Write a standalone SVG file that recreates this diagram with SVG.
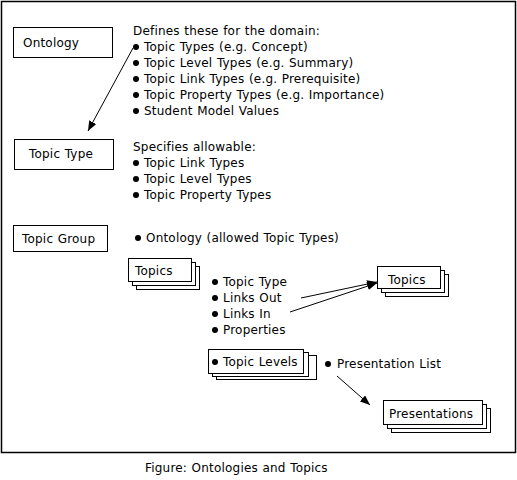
<svg xmlns="http://www.w3.org/2000/svg" width="517" height="480" viewBox="0 0 517 480">
<style>
text{font-family:"DejaVu Sans","Liberation Sans",sans-serif;font-size:12px;fill:#000;letter-spacing:0.2px;word-spacing:0.5px}
.box{fill:#fff;stroke:#000;stroke-width:1}
.frame{fill:none;stroke:#000;stroke-width:1.5}
.bul{fill:#000}
.conn{stroke:#000;stroke-width:1;fill:none;marker-end:url(#ah)}
</style>
<defs>
<marker id="ah" viewBox="0 0 10 8" refX="10" refY="4" markerWidth="10" markerHeight="8" markerUnits="userSpaceOnUse" orient="auto">
<path d="M0,0 L10,4 L0,8 Z" fill="#000"/>
</marker>
</defs>
<rect width="517" height="480" fill="#fff"/>
<rect class="frame" x="1.5" y="1.5" width="514" height="451"/>

<g id="ontology">
<rect class="box" x="13.5" y="27.5" width="99" height="30"/>
<text x="23" y="47">Ontology</text>
</g>
<g id="ontology-notes">
<text x="133" y="35">Defines these for the domain:</text>
<circle class="bul" cx="136" cy="47" r="3"/><text x="144" y="51">Topic Types (e.g. Concept)</text>
<circle class="bul" cx="136" cy="63" r="3"/><text x="144" y="67">Topic Level Types (e.g. Summary)</text>
<circle class="bul" cx="136" cy="79" r="3"/><text x="144" y="83">Topic Link Types (e.g. Prerequisite)</text>
<circle class="bul" cx="136" cy="95" r="3"/><text x="144" y="99">Topic Property Types (e.g. Importance)</text>
<circle class="bul" cx="136" cy="111" r="3"/><text x="144" y="115">Student Model Values</text>
</g>

<g id="topic-type">
<rect class="box" x="14.5" y="139.5" width="99" height="30"/>
<text x="29" y="158">Topic Type</text>
</g>
<g id="topic-type-notes">
<text x="133" y="151">Specifies allowable:</text>
<circle class="bul" cx="136" cy="163" r="3"/><text x="144" y="167">Topic Link Types</text>
<circle class="bul" cx="136" cy="179" r="3"/><text x="144" y="183">Topic Level Types</text>
<circle class="bul" cx="136" cy="195" r="3"/><text x="144" y="199">Topic Property Types</text>
</g>

<g id="topic-group">
<rect class="box" x="13.5" y="225.5" width="94" height="26"/>
<text x="22" y="243">Topic Group</text>
</g>
<g id="topic-group-notes">
<circle class="bul" cx="138" cy="238" r="3"/><text x="146" y="242">Ontology (allowed Topic Types)</text>
</g>

<g id="topics-left">
<rect class="box" x="136.5" y="266.5" width="63" height="23"/>
<rect class="box" x="132.5" y="262.5" width="63" height="23"/>
<rect class="box" x="128.5" y="258.5" width="63" height="23"/>
<text x="135" y="275">Topics</text>
</g>
<g id="topic-notes">
<circle class="bul" cx="215" cy="282" r="3"/><text x="223" y="286">Topic Type</text>
<circle class="bul" cx="215" cy="298" r="3"/><text x="223" y="302">Links Out</text>
<circle class="bul" cx="215" cy="314" r="3"/><text x="223" y="318">Links In</text>
<circle class="bul" cx="215" cy="330" r="3"/><text x="223" y="334">Properties</text>
</g>

<g id="topics-right">
<rect class="box" x="385.5" y="274.5" width="63" height="22"/>
<rect class="box" x="381.5" y="270.5" width="63" height="22"/>
<rect class="box" x="377.5" y="266.5" width="63" height="22"/>
<text x="388" y="284">Topics</text>
</g>

<g id="topic-levels">
<rect class="box" x="216.5" y="355.5" width="100" height="24"/>
<rect class="box" x="212.5" y="352.5" width="96" height="24"/>
<rect class="box" x="208.5" y="349.5" width="95" height="24"/>
<circle class="bul" cx="215" cy="362" r="3"/><text x="223" y="366">Topic Levels</text>
</g>
<g id="presentation-list">
<circle class="bul" cx="328" cy="364" r="3"/><text x="337" y="368">Presentation List</text>
</g>

<g id="presentations">
<rect class="box" x="391.5" y="408.5" width="99" height="24"/>
<rect class="box" x="387.5" y="404.5" width="99" height="24"/>
<rect class="box" x="383.5" y="400.5" width="99" height="24"/>
<text x="389" y="418">Presentations</text>
</g>

<g id="connectors">
<line class="conn" x1="133" y1="48" x2="88" y2="131"/>
<line class="conn" x1="301" y1="298" x2="377" y2="282"/>
<line class="conn" x1="290" y1="312" x2="377" y2="283"/>
<line class="conn" x1="337" y1="376" x2="370" y2="405"/>
</g>

<text x="145" y="472">Figure: Ontologies and Topics</text>
</svg>
